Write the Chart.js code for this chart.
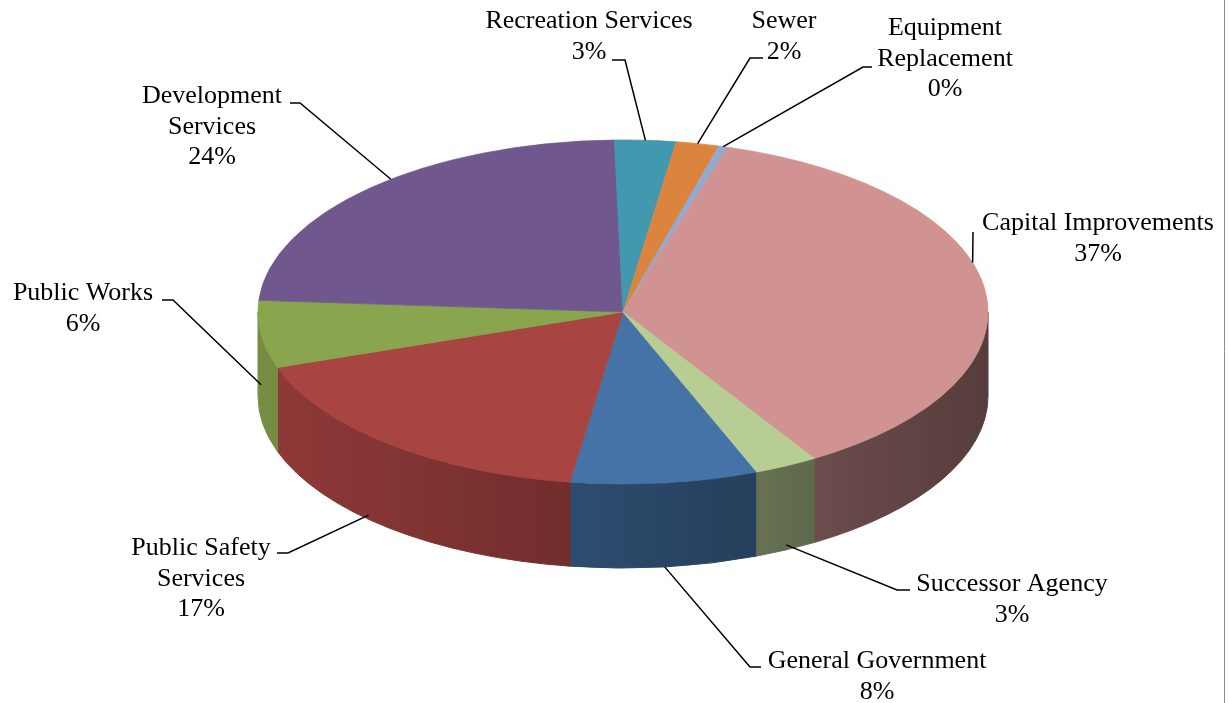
<!DOCTYPE html>
<html>
<head>
<meta charset="utf-8">
<script src="https://cdn.jsdelivr.net/npm/chart.js@4/dist/chart.umd.min.js"></script>
<style>
  html, body { margin: 0; padding: 0; background: #fff; }
  canvas { display: block; }
</style>
</head>
<body>
<canvas id="budgetPie" width="1228" height="703"></canvas>
<script>
const categories = [
  'General Government',
  'Public Safety Services',
  'Public Works',
  'Development Services',
  'Recreation Services',
  'Sewer',
  'Equipment Replacement',
  'Capital Improvements',
  'Successor Agency'
];
const values = [8.3, 17.45, 6.3, 23.55, 2.7, 1.9, 0.4, 36.6, 2.8];
const colors = ['#4572a7', '#a84442', '#89a54e', '#70588f', '#4198af', '#db843d', '#93a9cf', '#d19392', '#b8cd93'];

// where each data label sits (text centre / first baseline, leader elbow and end)
const labelLayout = [
  { x: 877, y: 668, wrap: 300, at: 0.5, drop: 1.0, elbow: [750, 667], end: [761, 667] },
  { x: 201, y: 555, wrap: 170, at: 0.57, drop: 0.95, elbow: [288, 553], end: [277, 553] },
  { x: 83, y: 300, wrap: 200, at: 0.5, drop: 0.6, elbow: [173, 300], end: [162, 300] },
  { x: 212, y: 103, wrap: 150, at: 0.55, drop: 0, elbow: [300, 103], end: [290, 103] },
  { x: 589, y: 28, wrap: 300, at: 0.5, drop: 0, elbow: [625, 60], end: [612, 60] },
  { x: 784, y: 28, wrap: 200, at: 0.5, drop: 0, elbow: [750, 58], end: [763, 58] },
  { x: 945, y: 35, wrap: 150, at: 0.5, drop: 0, elbow: [863, 67], end: [872, 67] },
  { x: 1098, y: 230, wrap: 300, at: 0.43, drop: 0, elbow: [973, 232], end: [973, 232] },
  { x: 1012, y: 591, wrap: 300, at: 0.5, drop: 0.94, elbow: [897, 590], end: [910, 590] }
];

const TILT = 172 / 365;
const DEPTH = 84;
const FONT = '26px "Liberation Serif", "Times New Roman", serif';
const LINE_H = 30.5;

function shade(hex, m) {
  const n = parseInt(hex.slice(1), 16);
  const r = Math.round(((n >> 16) & 255) * m);
  const g = Math.round(((n >> 8) & 255) * m);
  const b = Math.round((n & 255) * m);
  return `rgb(${r},${g},${b})`;
}

function wrapText(ctx, text, maxW) {
  const words = text.split(' ');
  const lines = [];
  let cur = '';
  words.forEach(w => {
    const test = cur ? cur + ' ' + w : w;
    if (cur && ctx.measureText(test).width > maxW) {
      lines.push(cur);
      cur = w;
    } else {
      cur = test;
    }
  });
  if (cur) lines.push(cur);
  return lines;
}

const pie3d = {
  id: 'pie3d',
  beforeDatasetsDraw(chart) {
    const ctx = chart.ctx;
    const arcs = chart.getDatasetMeta(0).data;
    const cx = arcs[0].x, cy = arcs[0].y, rx = arcs[0].outerRadius;
    const ry = rx * TILT;

    // side wall of the front half
    ctx.save();
    arcs.forEach((arc, i) => {
      const grad = ctx.createLinearGradient(cx - rx, 0, cx + rx, 0);
      grad.addColorStop(0, shade(colors[i], 0.86));
      grad.addColorStop(1, shade(colors[i], 0.41));
      ctx.fillStyle = grad;
      ctx.strokeStyle = grad;
      ctx.lineWidth = 1;
      [-2 * Math.PI, 0, 2 * Math.PI].forEach(o => {
        const lo = Math.max(arc.startAngle + o, 0);
        const hi = Math.min(arc.endAngle + o, Math.PI);
        if (hi <= lo) return;
        ctx.beginPath();
        ctx.ellipse(cx, cy, rx, ry, 0, lo, hi);
        ctx.ellipse(cx, cy + DEPTH, rx, ry, 0, hi, lo, true);
        ctx.closePath();
        ctx.fill();
        ctx.stroke();
      });
    });
    ctx.restore();

    // squash the top face into an ellipse
    ctx.save();
    ctx.translate(cx, cy);
    ctx.scale(1, TILT);
    ctx.translate(-cx, -cy);
  },
  afterDatasetsDraw(chart) {
    chart.ctx.restore();
  },
  afterDraw(chart) {
    const ctx = chart.ctx;
    const arcs = chart.getDatasetMeta(0).data;
    const total = values.reduce((a, b) => a + b, 0);
    ctx.save();
    ctx.font = FONT;
    ctx.fillStyle = '#000';
    ctx.strokeStyle = '#000';
    ctx.lineWidth = 1.5;
    ctx.textAlign = 'center';
    ctx.textBaseline = 'alphabetic';
    arcs.forEach((arc, i) => {
      const L = labelLayout[i];
      const a = arc.startAngle + (arc.endAngle - arc.startAngle) * L.at;
      const ax = arc.x + arc.outerRadius * Math.cos(a);
      const ay = arc.y + arc.outerRadius * TILT * Math.sin(a) + DEPTH * L.drop;
      ctx.beginPath();
      ctx.moveTo(ax, ay);
      ctx.lineTo(L.elbow[0], L.elbow[1]);
      ctx.lineTo(L.end[0], L.end[1]);
      ctx.stroke();
      const lines = wrapText(ctx, categories[i], L.wrap);
      lines.push(Math.round(values[i] / total * 100) + '%');
      lines.forEach((t, j) => ctx.fillText(t, L.x, L.y + j * LINE_H));
    });
    ctx.strokeStyle = '#8c8c8c';
    ctx.lineWidth = 1;
    ctx.beginPath();
    ctx.moveTo(1224.5, 0);
    ctx.lineTo(1224.5, chart.height);
    ctx.stroke();
    ctx.restore();
  }
};

const ctx = document.getElementById('budgetPie').getContext('2d');
const budgetPie = new Chart(ctx, {
  type: 'pie',
  data: {
    labels: categories,
    datasets: [{
      data: values,
      backgroundColor: colors,
      borderColor: colors,
      borderWidth: 1,
      radius: 365,
      rotation: 158.5,
      clip: false
    }]
  },
  options: {
    responsive: false,
    devicePixelRatio: 1,
    animation: false,
    events: [],
    layout: { padding: { left: 18, right: 0, top: 0, bottom: 79 } },
    plugins: {
      legend: { display: false },
      tooltip: { enabled: false }
    }
  },
  plugins: [pie3d]
});
</script>
</body>
</html>
